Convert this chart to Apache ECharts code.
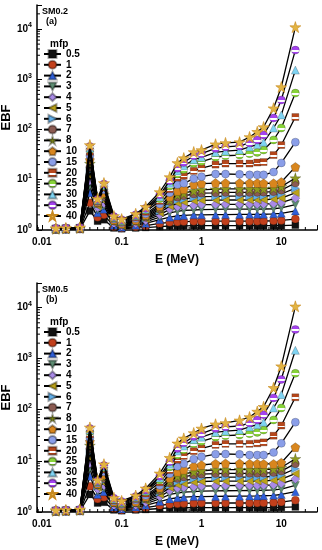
<!DOCTYPE html>
<html><head><meta charset="utf-8">
<script src="https://cdn.jsdelivr.net/npm/echarts@6/dist/echarts.min.js"></script>
<style>html,body{margin:0;padding:0;background:#fff}#c{width:322px;height:550px}</style>
</head><body><div id="c"></div>
<script>
// ---------- data ----------
const energies = [0.015,0.02,0.03,0.04,0.05,0.06,0.08,0.1,0.15,0.2,0.3,0.4,0.5,0.6,0.8,1,1.5,2,3,4,5,6,8,10,15];
const mfpNames = ['0.5','1','2','3','4','5','6','7','8','10','15','20','25','30','35','40'];
const panelTitles = [['SM0.2','(a)'],['SM0.5','(b)']];
const legendTitle = 'mfp';
const xTickLabels = ['0.01','0.1','1','10'];
const xMinorTicks = [0.009,0.02,0.03,0.04,0.05,0.06,0.07,0.08,0.09,0.2,0.3,0.4,0.5,0.6,0.7,0.8,0.9,2,3,4,5,6,7,8,9,20];
const yMinorTicks = [2,3,4,5,6,7,8,9,20,30,40,50,60,70,80,90,200,300,400,500,600,700,800,900,2000,3000,4000,5000,6000,7000,8000,9000,20000];

// panel (a) SM0.2
const A_05 = [1.02,1.03,1.04,2.4,1.5,1.6,1.1,1.06,1.1,1.12,1.17,1.2,1.2,1.21,1.22,1.22,1.22,1.22,1.22,1.22,1.22,1.22,1.22,1.22,1.25];
const A_1  = [1.03,1.04,1.05,3.5,1.8,2.0,1.18,1.1,1.16,1.22,1.35,1.42,1.45,1.47,1.49,1.5,1.5,1.5,1.5,1.5,1.5,1.51,1.52,1.55,1.65];
const A_2  = [1.03,1.04,1.06,5.5,2.2,2.6,1.25,1.14,1.25,1.35,1.6,1.8,1.9,1.95,2.0,2.0,2.02,2.03,2.04,2.05,2.05,2.06,2.1,2.15,2.4];
const A_3  = [1.04,1.05,1.07,7.5,2.5,3.0,1.3,1.17,1.3,1.45,1.8,2.2,2.35,2.45,2.5,2.55,2.58,2.6,2.6,2.6,2.6,2.62,2.65,2.75,3.2];
const A_4  = [1.04,1.05,1.07,9.5,2.8,3.4,1.35,1.2,1.35,1.55,2.0,2.6,2.9,3.0,3.1,3.2,3.22,3.25,3.25,3.25,3.25,3.28,3.35,3.5,4.3];
const A_5  = [1.04,1.06,1.08,12,3.0,3.8,1.4,1.22,1.4,1.65,2.2,3.0,3.4,3.6,3.8,3.9,3.93,3.95,3.95,3.95,3.95,4.0,4.1,4.3,5.5];
const A_6  = [1.05,1.06,1.08,15,3.2,4.2,1.45,1.25,1.45,1.7,2.4,3.3,3.9,4.1,4.4,4.6,4.65,4.7,4.7,4.7,4.7,4.75,4.9,5.2,6.8];
const A_7  = [1.05,1.06,1.09,18,3.4,4.6,1.5,1.28,1.5,1.8,2.6,3.7,4.5,4.8,5.2,5.4,5.5,5.6,5.6,5.6,5.6,5.65,5.8,6.2,8.6];
const A_8  = [1.05,1.07,1.09,21,3.5,5.0,1.55,1.3,1.55,1.9,2.8,4.0,5.0,5.4,6.0,6.3,6.5,6.6,6.6,6.6,6.6,6.6,6.8,7.3,10.8];
const A_10 = [1.06,1.07,1.1,25,3.6,5.5,1.6,1.35,1.6,2.0,3.0,4.6,6.0,6.5,8.0,8.4,8.6,8.6,8.6,8.6,8.6,8.5,8.5,9.0,18];
const A_15 = [1.06,1.08,1.1,30,3.7,6.3,1.65,1.4,1.7,2.1,3.3,5.5,8.0,8.5,10.5,11.5,13,13,12.8,12.5,12.5,12.5,14.2,21.6,56];
const A_20 = [1.07,1.08,1.11,36,3.8,7.0,1.7,1.45,1.8,2.3,3.8,6.5,11,12,15,17,20,21,21,21,22,22.5,31,49,177];
const A_25 = [1.07,1.09,1.11,40,3.9,7.4,1.75,1.5,1.9,2.5,4.2,7.5,13,16,21,23,28,30,31,33,35,39,62,107,530];
const A_30 = [1.08,1.09,1.12,43,4.0,7.8,1.8,1.55,1.95,2.6,4.6,8.5,15,19,25,28,35,37,39,45,50,56,107,195,1520];
const A_35 = [1.08,1.1,1.12,46,4.1,8.2,1.85,1.6,2.0,2.7,5.0,9.5,17,22,30,33,42,45,47,54,62,78,169,387,3800];
const A_40 = [1.09,1.1,1.13,49,4.2,8.6,1.9,1.65,2.1,2.9,5.7,11.3,21.6,27,35.6,39,51,54,56,71,90,112,265,700,10900];

// panel (b) SM0.5
const B_05 = [1.02,1.03,1.04,2.2,1.5,1.55,1.1,1.06,1.1,1.12,1.17,1.2,1.2,1.21,1.22,1.22,1.22,1.22,1.22,1.22,1.22,1.22,1.22,1.23,1.26];
const B_1  = [1.03,1.04,1.05,3.2,1.8,1.95,1.18,1.1,1.16,1.22,1.35,1.42,1.45,1.47,1.49,1.5,1.5,1.5,1.5,1.5,1.5,1.51,1.53,1.56,1.7];
const B_2  = [1.03,1.04,1.06,5.0,2.2,2.5,1.25,1.14,1.25,1.35,1.6,1.8,1.9,1.95,2.0,2.0,2.02,2.03,2.04,2.05,2.06,2.08,2.12,2.2,2.5];
const B_3  = [1.04,1.05,1.07,7.0,2.5,2.9,1.3,1.17,1.3,1.45,1.8,2.2,2.35,2.45,2.5,2.55,2.58,2.6,2.62,2.63,2.64,2.66,2.7,2.8,3.3];
const B_4  = [1.04,1.05,1.07,9.0,2.8,3.3,1.35,1.2,1.35,1.55,2.0,2.6,2.9,3.0,3.1,3.2,3.25,3.28,3.3,3.3,3.3,3.32,3.4,3.6,4.4];
const B_5  = [1.04,1.06,1.08,11.5,3.0,3.7,1.4,1.22,1.4,1.65,2.2,3.0,3.4,3.6,3.8,3.95,4.0,4.0,4.02,4.02,4.02,4.05,4.15,4.4,5.6];
const B_6  = [1.05,1.06,1.08,14.5,3.2,4.1,1.45,1.25,1.45,1.72,2.4,3.3,3.9,4.1,4.45,4.65,4.75,4.8,4.8,4.8,4.8,4.85,5.0,5.3,7.0];
const B_7  = [1.05,1.06,1.09,17.5,3.4,4.5,1.5,1.28,1.5,1.8,2.6,3.7,4.5,4.85,5.3,5.5,5.65,5.7,5.7,5.7,5.7,5.75,5.9,6.3,8.8];
const B_8  = [1.05,1.07,1.09,20,3.5,4.9,1.55,1.3,1.55,1.9,2.8,4.0,5.0,5.5,6.1,6.4,6.7,6.75,6.75,6.75,6.75,6.75,6.9,7.4,11];
const B_10 = [1.06,1.07,1.1,24,3.6,5.4,1.6,1.35,1.6,2.0,3.0,4.6,6.1,6.7,7.8,8.3,8.8,8.9,8.9,8.8,8.8,8.7,8.7,9.2,18.5];
const B_15 = [1.06,1.08,1.1,28,3.7,6.1,1.65,1.4,1.7,2.1,3.3,5.6,7.8,8.8,10.8,12,13.5,13.6,13.4,13,13,13,14.6,22,57];
const B_20 = [1.07,1.08,1.11,33,3.85,6.8,1.7,1.45,1.8,2.3,3.8,6.6,10.5,12.5,15.5,17.5,20.5,21.5,21.5,21.5,22,23,31,49,175];
const B_25 = [1.07,1.09,1.11,37,3.9,7.3,1.75,1.5,1.9,2.5,4.2,7.6,13,16.5,21.5,24,29,31,32,34,36,40,63,108,515];
const B_30 = [1.08,1.09,1.12,40,4.0,7.7,1.8,1.55,1.95,2.6,4.6,8.6,15.5,19.5,26,29,36,38,40,46,51,57,108,197,1450];
const B_35 = [1.08,1.1,1.12,43,4.1,8.1,1.85,1.6,2.0,2.7,5.0,9.6,17.5,22.5,30,34,43,46,48,55,63,80,170,390,3700];
const B_40 = [1.09,1.1,1.13,45,4.2,8.6,1.9,1.65,2.1,2.9,5.7,11.5,22,27.5,35,43,52,55,62,72,92,114,268,710,10500];

const panelA = [A_05,A_1,A_2,A_3,A_4,A_5,A_6,A_7,A_8,A_10,A_15,A_20,A_25,A_30,A_35,A_40];
const panelB = [B_05,B_1,B_2,B_3,B_4,B_5,B_6,B_7,B_8,B_10,B_15,B_20,B_25,B_30,B_35,B_40];

// ---------- styling ----------
const FONT = '"Liberation Sans", Arial, sans-serif';
const STAR = 'path://M50,0 L61,35 L98,35 L68,57 L79,91 L50,70 L21,91 L32,57 L2,35 L39,35 Z';
const PENT = 'path://M50,0 L98,36 L80,95 L20,95 L2,36 Z';
const X_MIN = 0.0087, X_MAX = 28, Y_MIN = 1, Y_MAX = 30000;
const markers = [
  {s:'rect',     c:'#111111', r:0},
  {s:'circle',   c:'#c2401c', r:0},
  {s:'triangle', c:'#2f5fd8', r:0},
  {s:'triangle', c:'#5d8c72', r:180},
  {s:'diamond',  c:'#a98be6', r:0},
  {s:'triangle', c:'#bba21a', r:90},
  {s:'triangle', c:'#62aee8', r:-90},
  {s:'circle',   c:'#8b5b52', r:0},
  {s:STAR,       c:'#8e9a1e', r:0},
  {s:PENT,       c:'#d8861e', r:0},
  {s:'circle',   c:'#8a9ee8', r:0},
  {s:'rect',     c:'#b5471c', r:0, half:true},
  {s:'circle',   c:'#88d33a', r:0, half:true},
  {s:'triangle', c:'#7fd3f2', r:0},
  {s:'circle',   c:'#a443ee', r:0, half:true},
  {s:STAR,       c:'#e2b443', r:0}
];
function fillOf(m){
  if(!m.half) return m.c;
  return new echarts.graphic.LinearGradient(0,0,0,1,[
    {offset:0,color:m.c},{offset:0.5,color:m.c},{offset:0.5,color:'#ffffff'},
    {offset:0.72,color:'#ffffff'},{offset:0.72,color:m.c},{offset:1,color:m.c}]);
}
function sizeOf(m){
  if(m.s===STAR) return 11;
  if(m.s===PENT) return 9;
  if(m.s==='rect') return 7;
  if(m.s==='diamond') return 9;
  return 8;
}

const grids = [
  {left:37, top:5,   width:280, height:225, containLabel:false, outerBoundsMode:'none'},
  {left:37, top:283, width:280, height:229, containLabel:false, outerBoundsMode:'none'}
];

const xAxes = grids.map((g,i)=>({
  type:'log', gridIndex:i, min:X_MIN, max:X_MAX, logBase:10,
  name:'E (MeV)', nameLocation:'middle', nameGap:24, nameMoveOverlap:false,
  nameTextStyle:{fontFamily:FONT, fontWeight:'bold', fontSize:12, color:'#000'},
  axisLine:{show:true, onZero:false, lineStyle:{color:'#000', width:1.5}},
  axisTick:{show:true, inside:true, length:5, lineStyle:{color:'#000', width:1}},
  splitLine:{show:false},
  axisLabel:{
    margin:7, color:'#000', fontFamily:FONT, fontWeight:'bold', fontSize:10,
    formatter:(v)=>{ const e=Math.log10(v), r=Math.round(e); if(Math.abs(e-r)>1e-6) return ''; const k=r+2; return (k>=0&&k<xTickLabels.length)?xTickLabels[k]:''; }
  }
}));
const yAxes = grids.map((g,i)=>({
  type:'log', gridIndex:i, min:Y_MIN, max:Y_MAX, logBase:10, interval:1,
  name:'EBF', nameLocation:'middle', nameGap:24, nameRotate:90, nameMoveOverlap:false,
  nameTextStyle:{fontFamily:FONT, fontWeight:'bold', fontSize:13, color:'#000'},
  axisLine:{show:true, onZero:false, lineStyle:{color:'#000', width:1.5}},
  axisTick:{show:true, inside:true, length:5, lineStyle:{color:'#000', width:1}},
  splitLine:{show:false},
  axisLabel:{
    margin:5, color:'#000', fontFamily:FONT,
    formatter:(v)=>{ const e=Math.log10(v), r=Math.round(e); if(Math.abs(e-r)>1e-6) return ''; return '{b|10}{s|'+r+'}'; },
    rich:{
      b:{fontFamily:FONT, fontWeight:'bold', fontSize:10, color:'#000'},
      s:{fontFamily:FONT, fontWeight:'bold', fontSize:7, color:'#000', verticalAlign:'bottom', padding:[0,0,7,0]}
    }
  }
}));

const series = [];
[panelA, panelB].forEach((panel, gi)=>{
  panel.forEach((vals, si)=>{
    const m = markers[si];
    series.push({
      type:'line', name:mfpNames[si], xAxisIndex:gi, yAxisIndex:gi,
      data: energies.map((e,k)=>[e, vals[k]]),
      symbol:m.s, symbolRotate:m.r, symbolSize:sizeOf(m),
      showAllSymbol:true, z:2+si*0.1,
      lineStyle:{color:'#000', width:1.3},
      itemStyle:{color:fillOf(m), borderColor: si===15 ? '#c88a20' : 'rgba(0,0,0,0.35)', borderWidth:0.6},
      emphasis:{disabled:true}, animation:false
    });
  });
  // minor ticks (log decade subdivisions) drawn through the axes
  series.push({
    type:'custom', name:'xminor'+gi, xAxisIndex:gi, yAxisIndex:gi, silent:true, clip:false, z:20,
    data: xMinorTicks.map(v=>[v, Y_MIN]),
    renderItem:(p, api)=>{ const c=api.coord([api.value(0), api.value(1)]);
      return {type:'line', shape:{x1:c[0], y1:c[1]-3, x2:c[0], y2:c[1]}, style:{stroke:'#000', lineWidth:1}}; }
  });
  series.push({
    type:'custom', name:'yminor'+gi, xAxisIndex:gi, yAxisIndex:gi, silent:true, clip:false, z:20,
    data: yMinorTicks.map(v=>[X_MIN, v]),
    renderItem:(p, api)=>{ const c=api.coord([api.value(0), api.value(1)]);
      return {type:'line', shape:{x1:c[0], y1:c[1], x2:c[0]+3, y2:c[1]}, style:{stroke:'#000', lineWidth:1}}; }
  });
});

const legends = grids.map((g,i)=>({
  data: mfpNames, orient:'vertical', left:43, top: g.top+44,
  itemWidth:17, itemHeight:10, itemGap:0.8, selectedMode:false, padding:0,
  textStyle:{fontFamily:FONT, fontWeight:'bold', fontSize:10, color:'#000'}
}));

const graphics = [];
grids.forEach((g,i)=>{
  graphics.push({type:'text', left:42, top:g.top+2, style:{text:panelTitles[i][0], font:'bold 9px '+FONT, fill:'#000'}});
  graphics.push({type:'text', left:46, top:g.top+12, style:{text:panelTitles[i][1], font:'bold 9px '+FONT, fill:'#000'}});
  graphics.push({type:'text', left:50, top:g.top+34, style:{text:legendTitle, font:'bold 10px '+FONT, fill:'#000'}});
});

const chart = echarts.init(document.getElementById('c'), null, {renderer:'canvas'});
chart.setOption({
  animation:false, backgroundColor:'#fff',
  grid: grids, xAxis: xAxes, yAxis: yAxes, legend: legends, series: series, graphic: graphics
});
</script></body></html>
